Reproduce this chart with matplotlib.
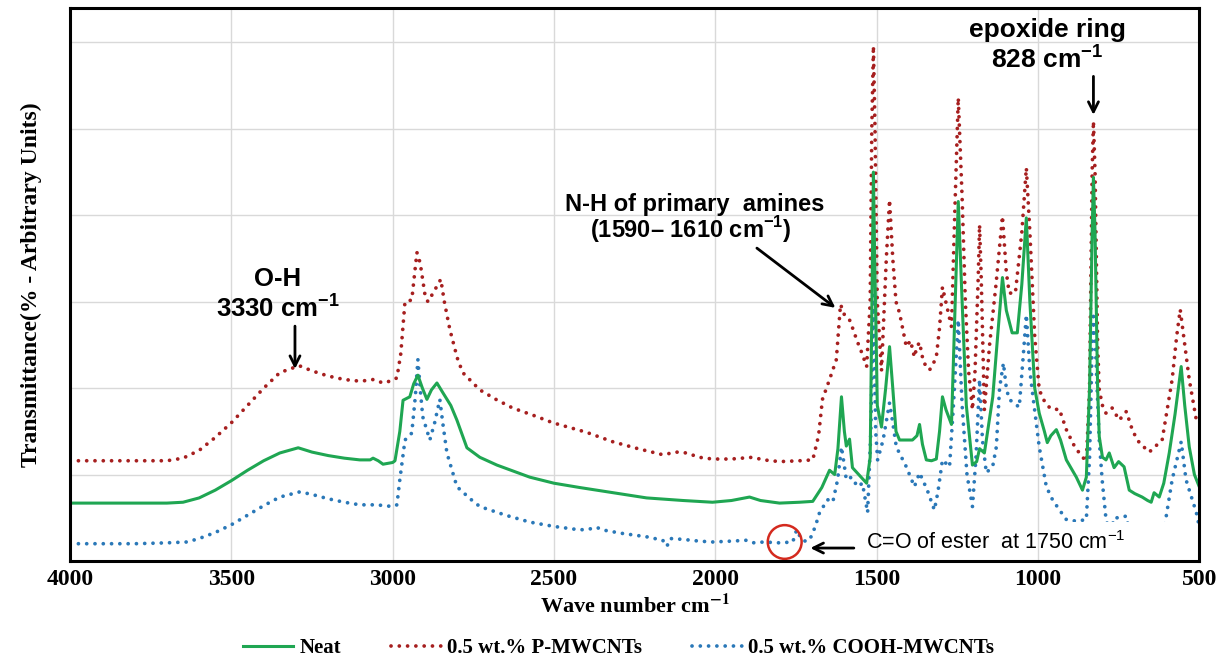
import matplotlib
matplotlib.use("Agg")
import matplotlib.pyplot as plt
from matplotlib.patches import Ellipse
from matplotlib.path import Path

plt.rcParams['mathtext.fontset'] = 'custom'
plt.rcParams['mathtext.rm'] = 'Liberation Sans'
plt.rcParams['mathtext.bf'] = 'Liberation Sans:bold'

# ---------------- data ----------------
neat_w = [4000, 3700, 3650, 3600, 3550, 3500, 3450, 3400, 3350, 3293, 3250, 3200, 3150, 3102, 3070, 3061,
          3045, 3030, 3000, 2993, 2978, 2968, 2947, 2935, 2922, 2908, 2894, 2880, 2863, 2845, 2820, 2801,
          2770, 2730, 2677, 2575, 2500, 2420, 2300, 2213, 2100, 2009, 1950, 1894, 1860, 1801, 1739, 1698,
          1670, 1646, 1630, 1620, 1609, 1600, 1594, 1584, 1575, 1531, 1520, 1513, 1510, 1506, 1498, 1485,
          1472, 1460, 1450, 1440, 1429, 1400, 1389, 1375, 1367, 1358, 1346, 1330, 1315, 1305, 1296, 1285,
          1268, 1258, 1247, 1235, 1222, 1203, 1190, 1181, 1166, 1140, 1125, 1110, 1098, 1080, 1064, 1050,
          1036, 1025, 1010, 996, 980, 971, 960, 943, 930, 912, 881, 862, 850, 840, 832, 828, 823, 815,
          810, 800, 789, 779, 764, 750, 733, 717, 700, 677, 660, 649, 640, 624, 610, 593, 575, 556, 545,
          531, 515, 500]
neat_v = [6.7, 6.7, 6.8, 7.3, 8.2, 9.3, 10.5, 11.6, 12.5, 13.1, 12.6, 12.2, 11.9, 11.7, 11.7, 11.9,
          11.6, 11.2, 11.4, 11.6, 15.0, 18.6, 19.0, 20.5, 21.5, 20.0, 18.7, 19.8, 20.6, 19.5, 18.0, 16.3,
          13.1, 12.0, 11.1, 9.7, 9.0, 8.5, 7.8, 7.3, 7.0, 6.8, 7.0, 7.4, 7.0, 6.7, 6.8, 6.9,
          8.5, 10.5, 10.0, 13.0, 19.0, 15.0, 13.3, 14.1, 10.8, 9.0, 12.0, 35.0, 45.0, 35.0, 18.0, 15.5,
          20.0, 24.8, 20.0, 15.0, 14.0, 14.0, 14.0, 14.5, 15.8, 13.5, 11.7, 11.6, 11.8, 15.0, 19.0, 17.5,
          15.8, 28.0, 41.6, 30.0, 18.0, 11.1, 11.5, 13.0, 12.5, 19.0, 26.0, 32.8, 29.0, 26.4, 26.4, 32.0,
          39.7, 30.0, 20.0, 17.1, 15.0, 13.7, 14.5, 15.2, 14.0, 11.7, 9.7, 8.2, 9.7, 20.0, 38.0, 44.4, 38.0, 20.0,
          14.4, 12.0, 11.7, 12.5, 10.8, 11.5, 10.9, 8.2, 7.8, 7.4, 7.0, 6.8, 7.9, 7.4, 9.0, 12.5, 17.0, 22.5, 18.0,
          13.2, 10.0, 8.6]

p_w = [4000, 3700, 3650, 3600, 3550, 3500, 3450, 3400, 3350, 3290, 3250, 3200, 3150, 3100, 3060, 3030,
       3000, 2987, 2975, 2962, 2941, 2930, 2925, 2915, 2900, 2891, 2875, 2851, 2840, 2823, 2800, 2783,
       2730, 2680, 2628, 2560, 2504, 2400, 2318, 2240, 2163, 2120, 2089, 2050, 2009, 1950, 1885, 1850,
       1801, 1739, 1698, 1680, 1668, 1646, 1625, 1612, 1600, 1584, 1570, 1562, 1545, 1531, 1520, 1515,
       1510, 1505, 1498, 1485, 1470, 1460, 1450, 1440, 1429, 1408, 1395, 1383, 1375, 1367, 1355, 1336,
       1325, 1315, 1305, 1296, 1268, 1258, 1247, 1235, 1225, 1215, 1203, 1195, 1185, 1181, 1176, 1166,
       1150, 1130, 1110, 1098, 1089, 1070, 1050, 1036, 1025, 1010, 996, 980, 965, 950, 934, 912,
       890, 872, 850, 840, 832, 828, 823, 815, 810, 800, 789, 770, 748, 726, 706, 686, 655, 615,
       584, 570, 559, 545, 531, 509, 500]
p_v = [11.6, 11.6, 11.9, 12.8, 14.3, 16.0, 18.0, 20.0, 21.8, 22.6, 22.0, 21.4, 21.0, 20.8, 21.0, 20.6,
       20.9, 21.2, 24.0, 30.0, 30.2, 34.0, 35.7, 34.5, 30.8, 30.0, 31.0, 32.6, 30.0, 26.8, 23.5, 21.8,
       19.8, 18.7, 17.7, 16.8, 16.0, 14.9, 13.8, 13.0, 12.3, 12.6, 12.5, 12.0, 11.8, 11.8, 12.0, 11.7,
       11.5, 11.6, 11.7, 14.5, 18.7, 21.0, 23.3, 29.7, 28.5, 27.9, 26.5, 25.6, 24.0, 22.5, 30.0, 50.0,
       59.6, 50.0, 30.0, 22.0, 35.0, 41.8, 35.0, 30.0, 28.7, 24.8, 25.5, 23.6, 24.8, 25.3, 23.0, 22.1,
       22.8, 23.6, 27.0, 31.7, 27.1, 40.0, 53.6, 42.0, 30.0, 22.0, 17.5, 22.0, 33.0, 38.9, 33.0, 17.5,
       25.0, 32.0, 39.9, 33.4, 31.0, 31.0, 38.0, 45.5, 38.0, 26.0, 19.8, 18.5, 17.8, 17.5, 17.6, 15.2,
       13.5, 12.5, 11.5, 20.0, 45.0, 50.9, 45.0, 25.0, 19.8, 18.0, 17.1, 17.7, 16.3, 17.3, 15.0, 13.7, 12.6, 14.0,
       21.0, 26.0, 29.1, 25.0, 21.0, 16.3, 16.0]

c_w = [4000, 3800, 3700, 3638, 3600, 3550, 3500, 3450, 3400, 3350, 3288, 3250, 3200, 3150, 3102, 3050,
       3000, 2987, 2978, 2962, 2941, 2930, 2922, 2915, 2907, 2885, 2870, 2854, 2845, 2832, 2801, 2760,
       2730, 2650, 2575, 2500, 2420, 2390, 2368, 2350, 2290, 2213, 2163, 2150, 2140, 2100, 2050, 2009,
       1950, 1903, 1880, 1850, 1801, 1760, 1748, 1740, 1725, 1708, 1690, 1677, 1652, 1636, 1621, 1609,
       1600, 1594, 1578, 1559, 1544, 1528, 1518, 1510, 1503, 1497, 1480, 1460, 1450, 1439, 1408, 1383,
       1367, 1343, 1321, 1310, 1296, 1274, 1262, 1247, 1235, 1220, 1203, 1192, 1181, 1172, 1160, 1140,
       1129, 1119, 1107, 1098, 1089, 1058, 1045, 1036, 1025, 1018, 996, 974, 955, 935, 912, 880,
       850, 840, 832, 828, 822, 810, 801, 789, 775, 764, 750, 726, 715, 690, 650, 615, 604, 584,
       556, 541, 509, 500]
c_v = [2.0, 2.0, 2.1, 2.2, 2.6, 3.3, 4.2, 5.3, 6.4, 7.4, 8.0, 7.7, 7.2, 6.8, 6.5, 6.5,
       6.3, 6.5, 9.4, 14.0, 14.8, 19.0, 23.3, 20.0, 16.7, 14.0, 16.0, 18.7, 16.0, 12.5, 8.6, 7.2,
       6.3, 5.3, 4.5, 4.0, 3.6, 3.7, 3.9, 3.6, 3.2, 2.8, 2.4, 1.7, 2.6, 2.5, 2.3, 2.2,
       2.3, 2.4, 2.1, 2.2, 2.1, 2.2, 3.6, 3.0, 2.3, 2.4, 4.0, 5.6, 7.1, 6.8, 9.4, 13.2,
       11.0, 9.4, 9.7, 8.6, 9.0, 5.6, 15.0, 30.8, 15.0, 11.7, 14.0, 18.3, 16.0, 13.2, 10.9, 8.6,
       10.2, 8.2, 5.9, 8.0, 11.7, 10.9, 18.0, 27.9, 18.0, 10.0, 6.3, 12.0, 21.0, 14.0, 10.2, 11.0,
       13.2, 20.0, 22.9, 20.0, 18.7, 17.8, 24.0, 28.5, 22.0, 19.8, 13.2, 8.6, 7.1, 6.0, 4.8, 4.6,
       4.8, 12.0, 25.0, 28.3, 25.0, 14.0, 9.4, 4.8, 3.0, 5.0, 5.0, 5.2, 3.0, 2.5, 2.5, 3.0, 4.8, 9.4,
       13.8, 9.4, 5.6, 4.0]

x_ticks = [4000, 3500, 3000, 2500, 2000, 1500, 1000, 500]
legend_labels = ["Neat", "0.5 wt.% P-MWCNTs", "0.5 wt.% COOH-MWCNTs"]

GREEN = '#1fa652'
RED = '#a61f1f'
BLUE = '#2a78b8'
SERIF = 'Liberation Serif'
SANS = 'Liberation Sans'

fig = plt.figure(figsize=(12.3, 6.6), dpi=100)
ax = fig.add_axes([0.057, 0.15, 0.918, 0.838])

dot = (0, (0.01, 2.2))
ax.plot(neat_w, neat_v, color=GREEN, lw=2.2, label=legend_labels[0], zorder=2.2)
ax.plot(p_w, p_v, color=RED, lw=2.7, linestyle=dot, dash_capstyle='round', label=legend_labels[1], zorder=2.1)
blue_line, = ax.plot(c_w, c_v, color=BLUE, lw=2.7, linestyle=dot, dash_capstyle='round',
                     label=legend_labels[2], zorder=2.0)

ax.set_xlim(4000, 500)
ax.set_ylim(0, 64)

# the C=O label box hides the lowest part of the blue trace (clip it out)
outer = [(4000, -5), (4000, 70), (400, 70), (400, -5), (4000, -5)]
inner = [(1480, 0.0), (520, 0.0), (520, 4.5), (1480, 4.5), (1480, 0.0)]
verts = outer + inner
codes = ([Path.MOVETO] + [Path.LINETO] * 3 + [Path.CLOSEPOLY]) * 2
clip = Path(verts, codes)
blue_line.set_clip_path(clip, ax.transData)

ax.set_xticks(x_ticks)
ax.set_xticklabels([str(t) for t in x_ticks], fontfamily=SERIF, fontweight='bold', fontsize=17)
ax.set_yticks([10, 20, 30, 40, 50, 60])
ax.set_yticklabels([])
ax.tick_params(axis='both', length=0, pad=6)
ax.grid(True, color='#d9d9d9', lw=1.0, zorder=0)
ax.set_axisbelow(True)
for s in ax.spines.values():
    s.set_linewidth(2.2)
    s.set_color('black')
    s.set_zorder(6)

ax.set_xlabel(r"Wave number cm$^{\mathbf{-1}}$", fontfamily=SERIF, fontweight='bold', fontsize=16,
              math_fontfamily='stix', labelpad=3)
ax.set_ylabel("Transmittance(% - Arbitrary Units)", fontfamily=SERIF, fontweight='bold', fontsize=17, labelpad=14)

# annotations
ax.text(3356, 32.6, "O-H", ha='center', va='center', fontfamily=SANS, fontweight='bold', fontsize=18.5, zorder=5)
ax.text(3356, 29.3, r"3330 cm$^{\mathbf{-1}}$", ha='center', va='center', fontfamily=SANS, fontweight='bold',
        fontsize=18.5, zorder=5)
ax.annotate("", xy=(3303, 21.9), xytext=(3303, 27.5),
            arrowprops=dict(arrowstyle='->', color='black', lw=2, mutation_scale=18), zorder=5)

ax.text(2064, 41.3, "N-H of primary  amines", ha='center', va='center', fontfamily=SANS, fontweight='bold',
        fontsize=17, zorder=5)
ax.text(2075, 38.3, r"(1590– 1610 cm$^{\mathbf{-1}}$)", ha='center', va='center', fontfamily=SANS,
        fontweight='bold', fontsize=17, zorder=5)
ax.annotate("", xy=(1621, 29.1), xytext=(1878, 36.4),
            arrowprops=dict(arrowstyle='->', color='black', lw=2, mutation_scale=18), zorder=5)

ax.text(971, 61.4, "epoxide ring", ha='center', va='center', fontfamily=SANS, fontweight='bold',
        fontsize=19, zorder=5)
ax.text(971, 58.1, r"828 cm$^{\mathbf{-1}}$", ha='center', va='center', fontfamily=SANS, fontweight='bold',
        fontsize=19, zorder=5)
ax.annotate("", xy=(828, 51.3), xytext=(828, 56.4),
            arrowprops=dict(arrowstyle='->', color='black', lw=2, mutation_scale=18), zorder=5)

ax.text(1532, 2.1, r"C=O of ester  at 1750 cm$^{-1}$", ha='left', va='center', fontfamily=SANS,
        fontsize=15.5, zorder=5)
ax.annotate("", xy=(1714, 1.5), xytext=(1562, 1.5),
            arrowprops=dict(arrowstyle='->', color='black', lw=2, mutation_scale=18), zorder=5)
ax.add_patch(Ellipse((1785, 2.2), 105, 3.9, facecolor='none', edgecolor='#d42a1e', lw=1.8, zorder=5))

leg = fig.legend(loc='center', bbox_to_anchor=(0.503, 0.018), ncol=3, frameon=False,
                 prop=dict(family=SERIF, weight='bold', size=15), handlelength=2.4, columnspacing=2.4,
                 handletextpad=0.3)

fig.savefig("out.png", dpi=100)
